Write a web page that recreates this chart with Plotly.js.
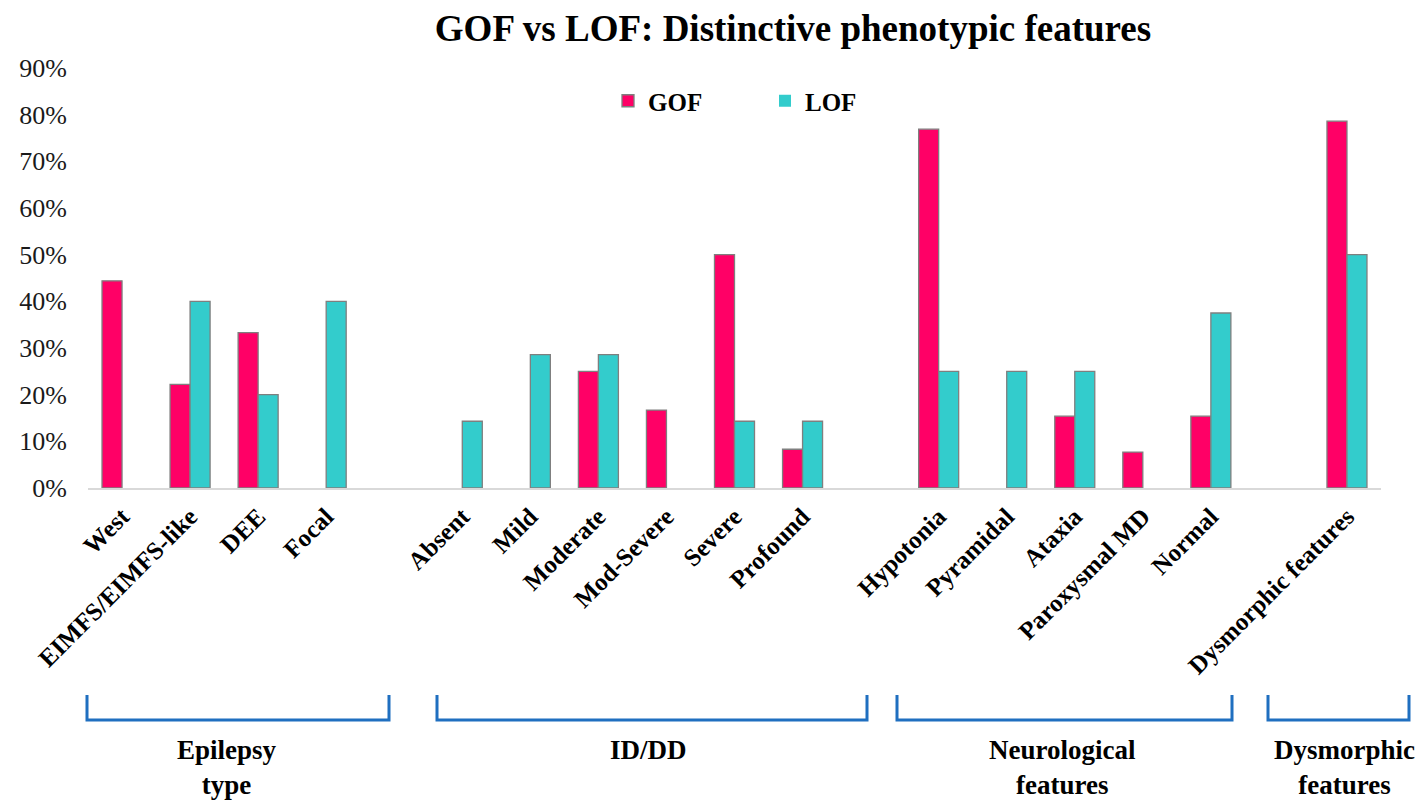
<!DOCTYPE html>
<html>
<head>
<meta charset="utf-8">
<script src="https://cdn.plot.ly/plotly-3.0.1.min.js"></script>
<style>
  html, body { margin: 0; padding: 0; background: #ffffff; }
  #chart { width: 1423px; height: 800px; }
</style>
</head>
<body>
<div id="chart"></div>
<script>
// Categories (zero-width-space placeholders create the empty slots between groups)
const categories = [
  'West', 'EIMFS/EIMFS-like', 'DEE', 'Focal', '\u200b',
  'Absent', 'Mild', 'Moderate', 'Mod-Severe', 'Severe', 'Profound', '\u200b\u200b',
  'Hypotonia', 'Pyramidal', 'Ataxia', 'Paroxysmal MD', 'Normal', '\u200b\u200b\u200b',
  'Dysmorphic features'
];
// Percent values (null = empty slot)
const gofValues = [44.4, 22.2, 33.3, 0, null, 0, 0, 25.0, 16.7, 50.0, 8.3, null, 76.9, 0, 15.4, 7.7, 15.4, null, 78.6];
const lofValues = [0, 40.0, 20.0, 40.0, null, 14.3, 28.6, 28.6, 0, 14.3, 14.3, null, 25.0, 25.0, 25.0, 0, 37.5, null, 50.0];
const seriesNames = ['GOF', 'LOF'];
const yTickValues = [0, 10, 20, 30, 40, 50, 60, 70, 80, 90];
const yTickLabels = ['0%', '10%', '20%', '30%', '40%', '50%', '60%', '70%', '80%', '90%'];
const groupLabels = ['Epilepsy<br>type', 'ID/DD', 'Neurological<br>features', 'Dysmorphic<br>features'];

const FONT = "'Times New Roman', 'Liberation Serif', serif";
const L = 88, R = 1381, T = 68, B = 488;
const px2x = p => (p - L) / (R - L);
const px2y = p => (B - p) / (B - T);
const outline = vals => vals.map(v => (v ? 1.3 : 0));

const traces = [
  { type: 'bar', name: seriesNames[0], x: categories, y: gofValues,
    marker: { color: '#FF0066', line: { color: '#7f7f7f', width: outline(gofValues) } }, hoverinfo: 'x+y' },
  { type: 'bar', name: seriesNames[1], x: categories, y: lofValues,
    marker: { color: '#33CCCC', line: { color: '#7f7f7f', width: outline(lofValues) } }, hoverinfo: 'x+y' }
];

// Bracket geometry (pixel positions -> paper)
const brackets = [[87, 389], [437, 867], [897, 1232], [1268, 1409]];
const labelCenters = [227, 648, 1062, 1344];
const shapes = brackets.map(([a, b]) => ({
  type: 'path', xref: 'paper', yref: 'paper',
  path: `M ${px2x(a)},${px2y(695)} L ${px2x(a)},${px2y(720)} L ${px2x(b)},${px2y(720)} L ${px2x(b)},${px2y(695)}`,
  line: { color: '#1F6FC0', width: 3 }
}));
const annotations = groupLabels.map((t, i) => ({
  xref: 'paper', yref: 'paper', x: px2x(labelCenters[i]), y: px2y(733),
  xanchor: 'center', yanchor: 'top', showarrow: false, text: t,
  font: { family: FONT, size: 27, color: '#000', weight: 'bold' }
}));

const layout = {
  width: 1423, height: 800, autosize: false,
  margin: { l: L, r: 1423 - R, t: T, b: 800 - B, pad: 0 },
  paper_bgcolor: '#fff', plot_bgcolor: '#fff',
  font: { family: FONT, color: '#000' },
  title: { text: 'GOF vs LOF: Distinctive phenotypic features',
    font: { family: FONT, size: 37, color: '#000', weight: 'bold' },
    xref: 'container', yref: 'container', x: 793 / 1423, y: 1 - 28 / 800,
    xanchor: 'center', yanchor: 'middle' },
  barmode: 'group', bargap: 0.412, bargroupgap: 0,
  showlegend: true,
  legend: { orientation: 'h', x: px2x(608), xanchor: 'left', y: px2y(101), yanchor: 'middle',
    font: { family: FONT, size: 25, color: '#000', weight: 'bold' },
    bgcolor: 'rgba(0,0,0,0)', entrywidth: 112, entrywidthmode: 'pixels' },
  xaxis: { type: 'category', categoryorder: 'array', categoryarray: categories,
    tickmode: 'linear', tick0: 0, dtick: 1,
    tickangle: -45, tickfont: { family: FONT, size: 25, color: '#000', weight: 'bold' },
    showline: true, linecolor: '#d9d9d9', linewidth: 2, ticks: '', showgrid: false,
    zeroline: false, automargin: false, fixedrange: true, ticklabelstandoff: 2 },
  yaxis: { range: [0, 90], tickmode: 'array', tickvals: yTickValues, ticktext: yTickLabels,
    tickfont: { family: FONT, size: 26, color: '#1a1a1a' },
    showline: false, showgrid: false, zeroline: false, ticks: '',
    automargin: false, fixedrange: true, ticklabelstandoff: 20 },
  shapes: shapes,
  annotations: annotations
};

Plotly.newPlot('chart', traces, layout, { displayModeBar: false, staticPlot: true });
</script>
</body>
</html>
